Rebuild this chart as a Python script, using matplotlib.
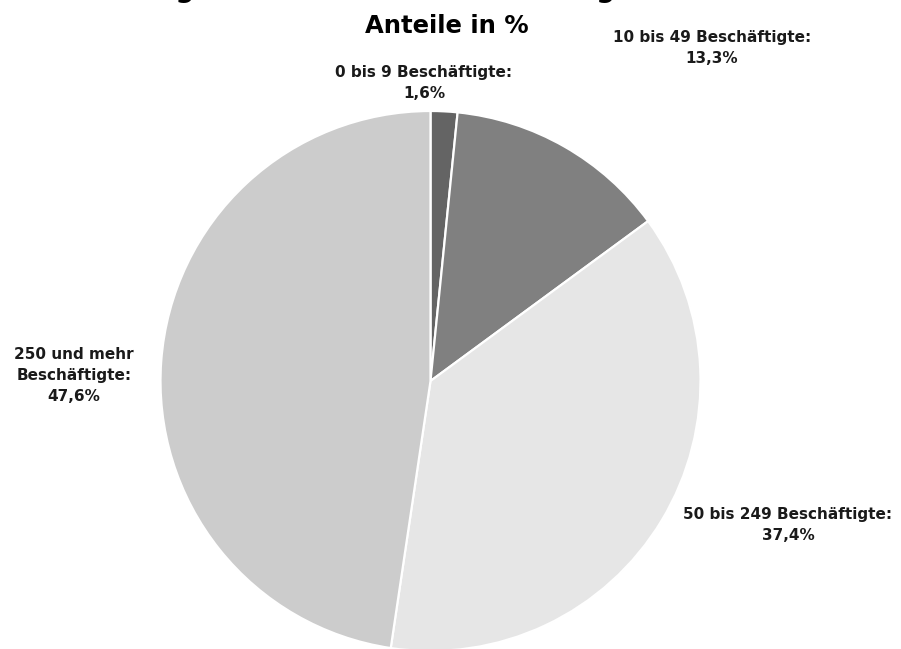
import matplotlib
matplotlib.use("Agg")
import matplotlib.pyplot as plt

# Anteile nach Beschäftigtengrößenklassen
labels = ["0 bis 9 Beschäftigte:", "10 bis 49 Beschäftigte:",
          "50 bis 249 Beschäftigte:", "250 und mehr\nBeschäftigte:"]
shares = [1.6, 13.3, 37.4, 47.6]
colors = ["#646464", "#808080", "#e6e6e6", "#cccccc"]

W, H = 901, 649
fig = plt.figure(figsize=(W / 100, H / 100), dpi=100)

# pie: centre (430.5, 381) px from top-left, radius 270 px
cx, cy, r = 430.5, 381, 270
ax = fig.add_axes([(cx - r) / W, (H - cy - r) / H, 2 * r / W, 2 * r / H])
ax.pie(shares, colors=colors, startangle=90, counterclock=False,
       wedgeprops=dict(edgecolor="white", linewidth=1.6))
ax.set_xlim(-1, 1)
ax.set_ylim(-1, 1)
ax.set_aspect("equal")
ax.axis("off")

def px(x, y):
    return x / W, 1 - y / H

# title (first line is cut off at the top of the picture)
fig.text(*px(35, -2.5), "Beschäftigte nach der Unternehmensgröße 2021",
         ha="left", va="baseline", fontsize=19.2, fontweight="bold")
fig.text(*px(447, 33), "Anteile in %", ha="center", va="baseline",
         fontsize=17.5, fontweight="bold")

# data labels
label_pos = [(424, 82.5), (712, 48), (788, 525), (74, 375.5)]
for lab, val, (x, y) in zip(labels, shares, label_pos):
    txt = lab + "\n" + ("%.1f" % val).replace(".", ",") + "%"
    fig.text(*px(x, y), txt, ha="center", va="center", fontsize=11,
             fontweight="bold", linespacing=1.5, color="#1a1a1a")

fig.savefig("out.png", dpi=100)
